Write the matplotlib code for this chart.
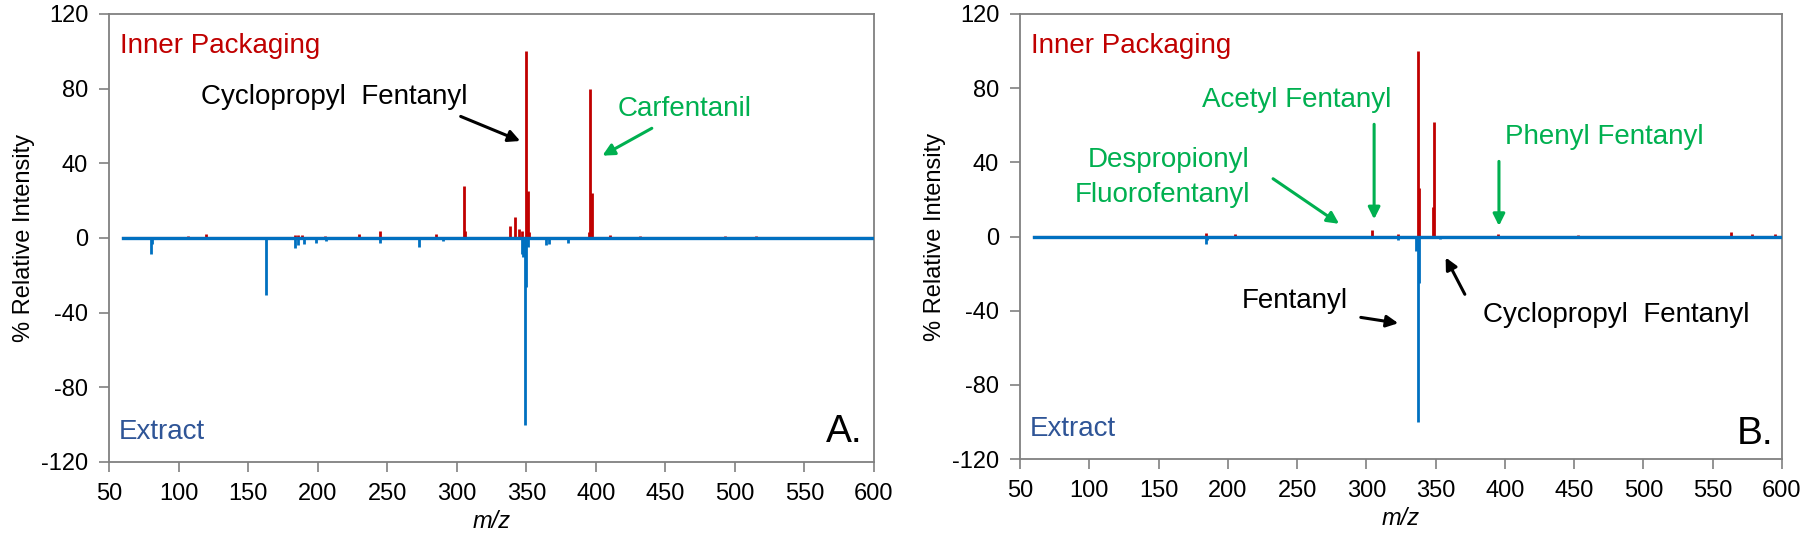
import matplotlib
matplotlib.use("Agg")
import matplotlib.pyplot as plt

# m/z range of the acquired trace
mz_start, mz_end = 60, 600

# Panel A - inner packaging (positive) and extract (negative)
a_pack_mz = [107, 120, 184, 186, 189, 205, 230, 245, 285, 305, 306, 338, 342, 345, 347,
             350, 351, 352, 395, 396, 397, 410, 432, 493, 515]
a_pack_int = [1, 2, 1.5, 1.5, 1.5, 1, 2, 3.5, 2, 28, 4, 6.5, 11.5, 5, 4,
              100, 25, 3, 3, 80, 24, 1.5, 1, 1, 1]
a_ext_mz = [80, 81, 163, 184, 186, 190, 199, 206, 245, 273, 290, 347, 348, 349, 350,
            351, 364, 366, 380]
a_ext_int = [-8.4, -3, -30.3, -5.2, -3.5, -3, -2.5, -1.5, -2.5, -4.8, -1.5, -8.5, -10, -100, -26.5,
             -5, -4, -3, -2.5]

# Panel B
b_pack_mz = [184, 205, 227, 281, 304, 323, 337, 338, 348, 349, 395, 453, 563, 578, 595]
b_pack_int = [2, 1.5, 0.5, 0.5, 3.3, 1.2, 100, 26, 16, 62, 1.5, 1, 2.5, 1.5, 1.5]
b_ext_mz = [184, 185, 323, 336, 337, 338, 353]
b_ext_int = [-4, -2, -2, -8, -100, -25, -1.5]

yticks = [-120, -80, -40, 0, 40, 80, 120]
xticks = list(range(50, 601, 50))

RED = "#C00000"
BLUE = "#0070C0"
TXT_BLUE = "#2F5597"
GREEN = "#00B050"
NARROW = ["Liberation Sans Narrow", "Liberation Sans", "DejaVu Sans"]

plt.rcParams["font.family"] = ["Liberation Sans", "DejaVu Sans"]
plt.rcParams["axes.unicode_minus"] = False

fig = plt.figure(figsize=(18.06, 5.36), dpi=100)
ax_a = fig.add_axes([109 / 1806, 74 / 536, 765 / 1806, 448 / 536])
ax_b = fig.add_axes([1020 / 1806, 77 / 536, 762 / 1806, 445 / 536])


def draw_spectrum(ax, pmz, pint, emz, eint):
    ax.plot([mz_start, mz_end], [0, 0], color=RED, lw=1.5, zorder=2)
    ax.vlines(pmz, 0, pint, color=RED, lw=2.0, zorder=2)
    ax.vlines(emz, 0, eint, color=BLUE, lw=2.0, zorder=3)
    ax.plot([mz_start, mz_end], [0, 0], color=BLUE, lw=2.4, zorder=3)
    ax.set_xlim(50, 600)
    ax.set_ylim(-120, 120)
    ax.set_xticks(xticks)
    ax.set_yticks(yticks)
    ax.tick_params(labelsize=17, length=7, width=1.2, color="#808080")
    ax.tick_params(axis="x", pad=8)
    ax.tick_params(axis="y", pad=8)
    for s in ax.spines.values():
        s.set_color("#808080")
        s.set_linewidth(1.3)
    ax.set_xlabel("m/z", fontsize=17, style="italic", labelpad=4)
    ax.set_ylabel("% Relative Intensity", fontsize=17, labelpad=4)
    ax.text(58, 103, "Inner Packaging", color=RED, fontsize=20, family=NARROW, va="center")
    ax.text(57, -104, "Extract", color=TXT_BLUE, fontsize=20, family=NARROW, va="center")


draw_spectrum(ax_a, a_pack_mz, a_pack_int, a_ext_mz, a_ext_int)
draw_spectrum(ax_b, b_pack_mz, b_pack_int, b_ext_mz, b_ext_int)

arrow_k = dict(arrowstyle="-|>,head_length=0.7,head_width=0.35", lw=2.2)

# Panel A labels
ax_a.text(212, 75.5, "Cyclopropyl  Fentanyl", fontsize=20, family=NARROW, ha="center", va="center")
ax_a.annotate("", xy=(347.5, 51.4), xytext=(301, 65.7),
              arrowprops=dict(color="black", **arrow_k))
ax_a.text(464, 69, "Carfentanil", fontsize=20, family=NARROW, color=GREEN, ha="center", va="center")
ax_a.annotate("", xy=(403, 43.4), xytext=(442, 59.5),
              arrowprops=dict(color=GREEN, **arrow_k))
ax_a.text(592, -104, "A.", fontsize=28, family=NARROW, ha="right", va="center")

# Panel B labels
ax_b.text(250, 73.6, "Acetyl Fentanyl", fontsize=20, family=NARROW, color=GREEN, ha="center", va="center")
ax_b.annotate("", xy=(305.6, 7.8), xytext=(305.6, 62),
              arrowprops=dict(color=GREEN, **arrow_k))
ax_b.text(216, 31.7, "Despropionyl\nFluorofentanyl", fontsize=20, family=NARROW, color=GREEN,
          ha="right", va="center", multialignment="right", linespacing=1.45)
ax_b.annotate("", xy=(282, 6), xytext=(231, 32),
              arrowprops=dict(color=GREEN, **arrow_k))
ax_b.text(472, 53.8, "Phenyl Fentanyl", fontsize=20, family=NARROW, color=GREEN, ha="center", va="center")
ax_b.annotate("", xy=(395.7, 4.2), xytext=(395.7, 42),
              arrowprops=dict(color=GREEN, **arrow_k))
ax_b.text(248.5, -34.7, "Fentanyl", fontsize=20, family=NARROW, ha="center", va="center")
ax_b.annotate("", xy=(325, -47), xytext=(294, -43.4),
              arrowprops=dict(color="black", **arrow_k))
ax_b.text(480.5, -42.5, "Cyclopropyl  Fentanyl", fontsize=20, family=NARROW, ha="center", va="center")
ax_b.annotate("", xy=(356.3, -10), xytext=(372, -32.5),
              arrowprops=dict(color="black", **arrow_k))
ax_b.text(594, -106.7, "B.", fontsize=28, family=NARROW, ha="right", va="center")

fig.savefig("out.png", dpi=100)
